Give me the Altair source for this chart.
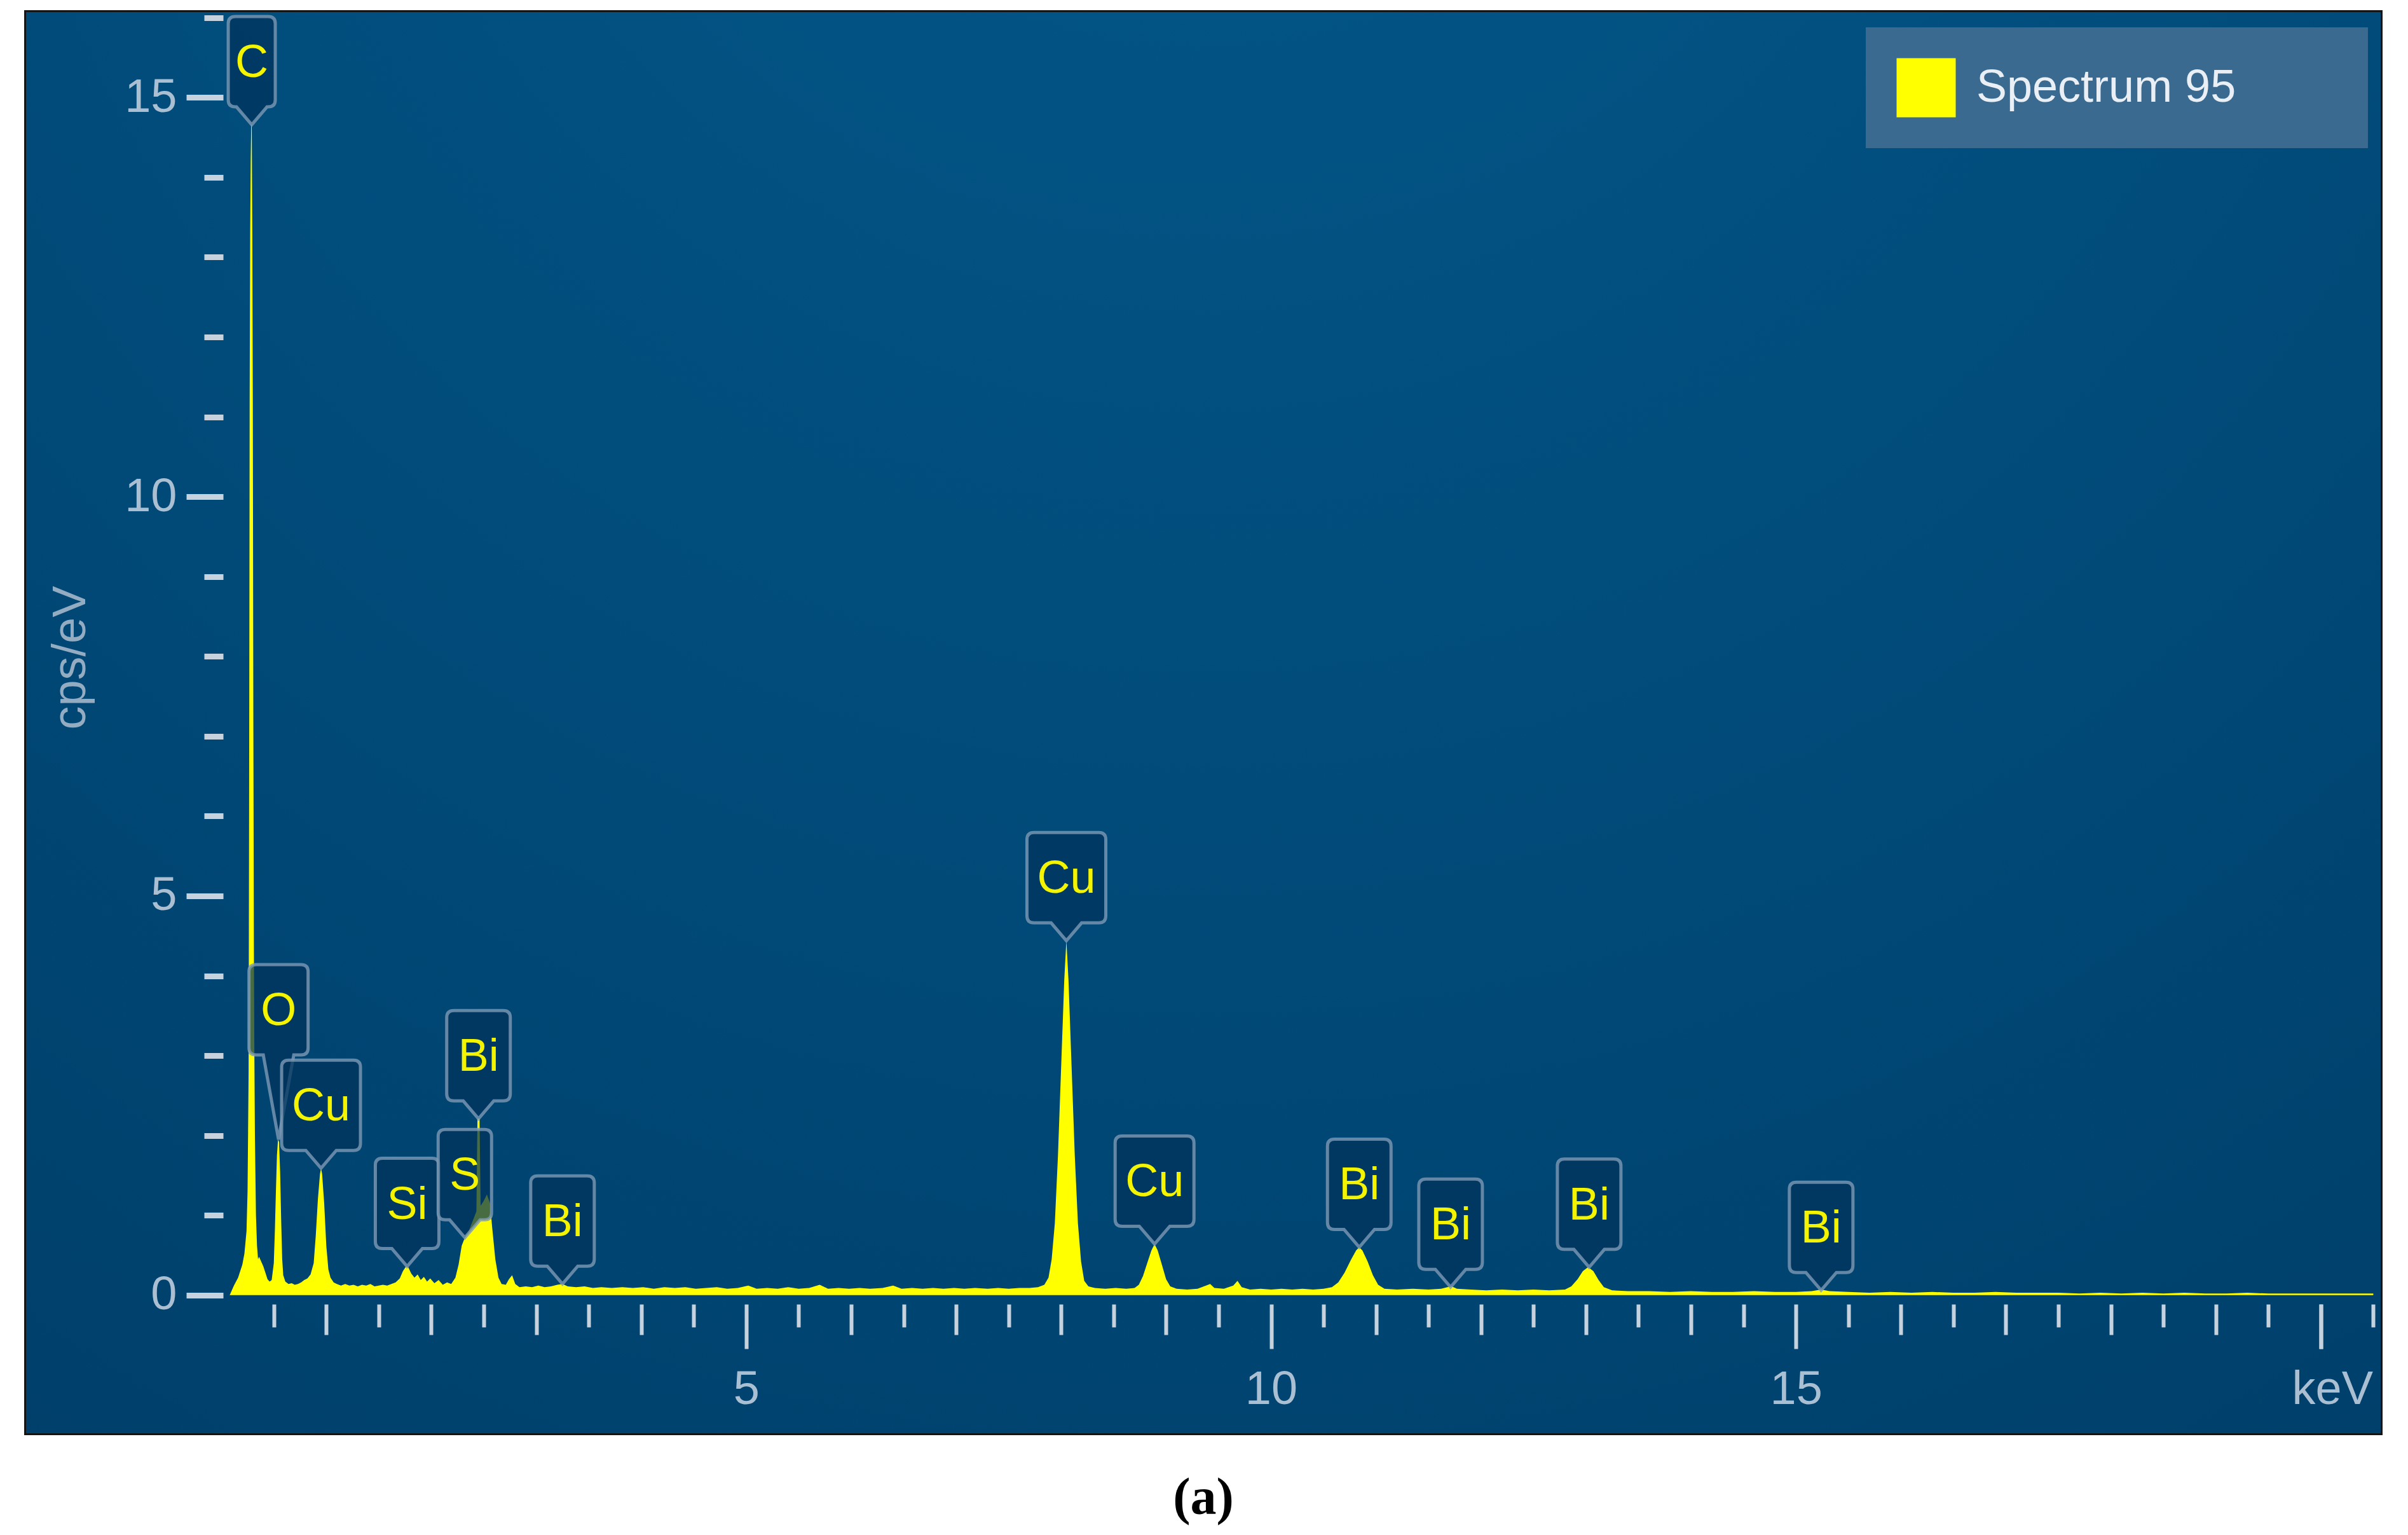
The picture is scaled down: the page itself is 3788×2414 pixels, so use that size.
import altair as alt
import pandas as pd

# ---------------- data ----------------
kev = [0.08, 0.10, 0.12, 0.14, 0.16, 0.18, 0.20, 0.22, 0.24, 0.25, 0.26, 0.265, 0.27, 0.275, 0.28, 0.285,
       0.29, 0.295, 0.30, 0.305, 0.31, 0.315, 0.32, 0.33, 0.34, 0.35, 0.36, 0.38, 0.40, 0.42, 0.44, 0.46,
       0.48, 0.50, 0.51, 0.52, 0.53, 0.54, 0.55, 0.56, 0.57, 0.58, 0.59, 0.61, 0.64, 0.67, 0.70, 0.73,
       0.76, 0.79, 0.82, 0.85, 0.88, 0.90, 0.92, 0.94, 0.95, 0.96, 0.98, 1.00, 1.02, 1.04, 1.07, 1.10,
       1.14, 1.18, 1.22, 1.26, 1.30, 1.34, 1.38, 1.42, 1.46, 1.50, 1.54, 1.58, 1.62, 1.66, 1.70, 1.73,
       1.76, 1.78, 1.81, 1.84, 1.87, 1.90, 1.93, 1.96, 1.99, 2.03, 2.07, 2.11, 2.15, 2.19, 2.23, 2.26,
       2.29, 2.32, 2.35, 2.38, 2.41, 2.43, 2.44, 2.46, 2.47, 2.50, 2.53, 2.56, 2.58, 2.61, 2.64, 2.67,
       2.71, 2.74, 2.77, 2.80, 2.84, 2.90, 2.96, 3.02, 3.08, 3.14, 3.20, 3.25, 3.30, 3.38, 3.46, 3.54,
       3.62, 3.72, 3.82, 3.92, 4.02, 4.12, 4.22, 4.32, 4.42, 4.52, 4.62, 4.72, 4.82, 4.92, 5.02, 5.10,
       5.20, 5.30, 5.40, 5.50, 5.60, 5.70, 5.78, 5.88, 5.98, 6.08, 6.18, 6.30, 6.40, 6.48, 6.58, 6.68,
       6.78, 6.88, 6.98, 7.08, 7.18, 7.30, 7.40, 7.50, 7.60, 7.70, 7.78, 7.84, 7.88, 7.91, 7.94, 7.97,
       8.00, 8.03, 8.05, 8.07, 8.10, 8.13, 8.16, 8.19, 8.22, 8.26, 8.32, 8.42, 8.52, 8.62, 8.70, 8.74,
       8.78, 8.82, 8.86, 8.89, 8.92, 8.96, 9.00, 9.04, 9.10, 9.20, 9.30, 9.38, 9.42, 9.46, 9.55, 9.64,
       9.68, 9.72, 9.80, 9.90, 10.00, 10.10, 10.20, 10.30, 10.40, 10.50, 10.58, 10.64, 10.70, 10.76, 10.81, 10.84,
       10.87, 10.92, 10.97, 11.02, 11.08, 11.20, 11.35, 11.50, 11.62, 11.68, 11.72, 11.77, 11.90, 12.05, 12.20, 12.35,
       12.50, 12.65, 12.80, 12.86, 12.92, 12.97, 13.02, 13.07, 13.12, 13.17, 13.25, 13.40, 13.60, 13.80, 14.00, 14.20,
       14.40, 14.60, 14.80, 15.00, 15.15, 15.24, 15.32, 15.50, 15.70, 15.90, 16.10, 16.30, 16.50, 16.70, 16.90, 17.10,
       17.30, 17.50, 17.70, 17.90, 18.10, 18.30, 18.50, 18.70, 18.90, 19.10, 19.30, 19.50, 19.70, 19.90, 20.10, 20.30,
       20.50]
cps = [0.00, 0.06, 0.12, 0.17, 0.22, 0.30, 0.38, 0.52, 0.80, 1.30, 2.80, 6.30, 11.20, 13.30, 14.20, 14.66,
       14.66, 13.30, 11.20, 7.30, 4.40, 3.00, 2.00, 1.00, 0.62, 0.45, 0.48, 0.42, 0.36, 0.28, 0.20, 0.17,
       0.19, 0.40, 0.80, 1.30, 1.75, 1.95, 1.92, 1.55, 0.95, 0.45, 0.25, 0.17, 0.14, 0.15, 0.13, 0.14,
       0.16, 0.19, 0.21, 0.26, 0.40, 0.75, 1.20, 1.52, 1.59, 1.52, 1.15, 0.62, 0.32, 0.22, 0.16, 0.14,
       0.12, 0.14, 0.12, 0.13, 0.11, 0.13, 0.12, 0.14, 0.11, 0.12, 0.13, 0.12, 0.14, 0.16, 0.21, 0.30,
       0.36, 0.35, 0.27, 0.22, 0.26, 0.19, 0.23, 0.17, 0.21, 0.15, 0.19, 0.13, 0.16, 0.14, 0.22, 0.38,
       0.62, 0.72, 0.78, 0.88, 0.98, 1.05, 2.21, 2.21, 1.12, 1.18, 1.26, 1.15, 0.85, 0.45, 0.22, 0.14,
       0.13, 0.20, 0.25, 0.14, 0.10, 0.11, 0.10, 0.12, 0.10, 0.11, 0.13, 0.14, 0.11, 0.10, 0.11, 0.09,
       0.10, 0.09, 0.10, 0.09, 0.10, 0.08, 0.10, 0.09, 0.10, 0.08, 0.09, 0.10, 0.08, 0.09, 0.12, 0.08,
       0.09, 0.08, 0.10, 0.08, 0.09, 0.13, 0.08, 0.09, 0.08, 0.09, 0.08, 0.09, 0.12, 0.08, 0.09, 0.08,
       0.09, 0.08, 0.09, 0.08, 0.09, 0.08, 0.09, 0.08, 0.09, 0.09, 0.10, 0.13, 0.22, 0.45, 0.90, 1.75,
       2.85, 3.95, 4.44, 3.95, 2.85, 1.75, 0.90, 0.42, 0.18, 0.11, 0.09, 0.08, 0.09, 0.08, 0.09, 0.13,
       0.24, 0.40, 0.56, 0.64, 0.56, 0.38, 0.20, 0.11, 0.08, 0.07, 0.08, 0.12, 0.14, 0.09, 0.08, 0.12,
       0.18, 0.10, 0.07, 0.08, 0.07, 0.08, 0.07, 0.08, 0.07, 0.08, 0.10, 0.16, 0.28, 0.44, 0.56, 0.60,
       0.56, 0.42, 0.25, 0.13, 0.08, 0.07, 0.08, 0.07, 0.08, 0.10, 0.11, 0.08, 0.07, 0.06, 0.07, 0.06,
       0.07, 0.06, 0.07, 0.11, 0.20, 0.30, 0.35, 0.30, 0.19, 0.10, 0.06, 0.05, 0.05, 0.04, 0.05, 0.04,
       0.04, 0.05, 0.04, 0.04, 0.05, 0.07, 0.05, 0.04, 0.03, 0.04, 0.03, 0.04, 0.03, 0.03, 0.04, 0.03,
       0.03, 0.03, 0.02, 0.03, 0.02, 0.03, 0.02, 0.03, 0.02, 0.02, 0.03, 0.02, 0.02, 0.02, 0.02, 0.02,
       0.02]
series_name = "Spectrum 95"

tag_element = ["C", "O", "Cu", "Si", "S", "Bi", "Bi", "Cu", "Cu", "Bi", "Bi", "Bi", "Bi"]
tag_kev = [0.29, 0.545, 0.95, 1.77, 2.32, 2.45, 3.25, 8.05, 8.89, 10.84, 11.71, 13.03, 15.24]
tag_cps = [14.66, 1.95, 1.59, 0.36, 0.72, 2.21, 0.14, 4.44, 0.64, 0.60, 0.10, 0.35, 0.06]

x_label_values = [5, 10, 15, 20]
x_unit_values = [1, 2, 3, 4, 6, 7, 8, 9, 11, 12, 13, 14, 16, 17, 18, 19]
x_half_values = [0.5, 1.5, 2.5, 3.5, 4.5, 5.5, 6.5, 7.5, 8.5, 9.5, 10.5, 11.5, 12.5, 13.5,
                 14.5, 15.5, 16.5, 17.5, 18.5, 19.5, 20.5]
y_label_values = [0, 5, 10, 15]
y_minor_values = [1, 2, 3, 4, 6, 7, 8, 9, 11, 12, 13, 14, 16]
x_unit_label = "keV"
y_title = "cps/eV"
caption = "(a)"

# ---------------- styling ----------------
W, H = 3704, 2235
X_DOMAIN = [-1.86, 20.57]
Y_DOMAIN = [-1.73, 16.07]
FONT = "Liberation Sans"
TICK = "#c6d3df"
LABEL = "#aabfd2"
YELLOW = "#ffff00"
XOFF = -203
YOFF = -310
BLANK = "\u2800"  # blank glyph, only widens the legend frame

xs = alt.Scale(domain=X_DOMAIN, nice=False, zero=False)
ys = alt.Scale(domain=Y_DOMAIN, nice=False, zero=False)


def x_axis(values, size, **kw):
    return alt.Axis(values=values, tickSize=size, tickWidth=6, tickColor=TICK, domain=False,
                    grid=False, title=None, orient="bottom", offset=XOFF, zindex=2, **kw)


def y_axis(values, size, **kw):
    return alt.Axis(values=values, tickSize=size, tickWidth=9, tickColor=TICK, domain=False,
                    grid=False, orient="left", offset=YOFF, zindex=2, **kw)


BOX_W = {"C": 74, "O": 93, "Cu": 124, "Si": 100, "S": 84, "Bi": 100}
BOX_H = 142
stems = [28] * len(tag_element)
stems[1] = 133  # the O label is lifted above the Cu label


def tag_shape(box_w, box_h, stem, half_base=24, radius=11, unit=100.0):
    w2 = box_w / 2.0
    top = stem + box_h
    cmds = [
        ("M", 0, 0), ("L", half_base, -stem), ("L", w2 - radius, -stem),
        ("Q", w2, -stem, w2, -stem - radius), ("L", w2, -top + radius),
        ("Q", w2, -top, w2 - radius, -top), ("L", -w2 + radius, -top),
        ("Q", -w2, -top, -w2, -top + radius), ("L", -w2, -stem - radius),
        ("Q", -w2, -stem, -w2 + radius, -stem), ("L", -half_base, -stem),
    ]
    out = []
    for c in cmds:
        out.append(c[0] + " ".join(f"{v / unit:.3f}" for v in c[1:]))
    return " ".join(out) + " Z"


spec_df = pd.DataFrame({"keV": kev, "cps": cps, "series": series_name})
tag_df = pd.DataFrame({"element": tag_element, "keV": tag_kev, "cps": tag_cps})
tag_df["shape"] = [tag_shape(BOX_W[e], BOX_H, s) for e, s in zip(tag_element, stems)]
tag_df["stem"] = stems

gradient = alt.Gradient(
    gradient="radial", x1=0.5, y1=0.0, x2=0.5, y2=0.0, r1=0, r2=1.0,
    stops=[alt.GradientStop(color="#03598b", offset=0),
           alt.GradientStop(color="#014c7b", offset=0.5),
           alt.GradientStop(color="#003e69", offset=1)],
)

bg = alt.Chart(pd.DataFrame({"k": [0]})).mark_rect(fill=gradient, strokeWidth=0).encode(
    opacity=alt.value(1)
)

area = alt.Chart(spec_df).mark_area(interpolate="linear", opacity=1).encode(
    x=alt.X("keV:Q", scale=xs,
            axis=x_axis(x_label_values, 70, labels=True, labelFont=FONT, labelFontSize=74,
                        labelColor=LABEL, labelPadding=64, labelBaseline="middle",
                        labelFlush=False, labelOverlap=False, labelBound=False,
                        labelExpr="datum.value == 20 ? '' : datum.label")),
    y=alt.Y("cps:Q", scale=ys,
            axis=y_axis(y_label_values, 58, labels=True, labelFont=FONT, labelFontSize=74,
                        labelColor=LABEL, labelPadding=15, labelFlush=False, labelOverlap=False,
                        title=y_title, titleFont=FONT, titleFontSize=74,
                        titleFontWeight="normal", titleColor="#93acc2", titleAngle=270,
                        titleX=-240, titleY=1015, titleAlign="center", titleBaseline="middle")),
    y2=alt.datum(0),
    color=alt.Color("series:N", scale=alt.Scale(domain=[series_name], range=[YELLOW]),
                    legend=alt.Legend(title=None, orient="none", legendX=2894, legendY=24,
                                      fillColor="#3a6a8f", padding=48, symbolType="square",
                                      symbolSize=8650, symbolStrokeWidth=0, symbolOpacity=1,
                                      labelFont=FONT, labelFontSize=72, labelColor="#e9eff5",
                                      labelOffset=32, labelLimit=3000,
                                      labelExpr="datum.label + '" + BLANK * 3 + "'", zindex=3)),
)

unit_label = alt.Chart(tag_df).mark_text(opacity=0).encode(
    x=alt.X("keV:Q", scale=xs,
            axis=x_axis([20], 70, labels=True, labelFont=FONT, labelFontSize=74,
                        labelColor=LABEL, labelPadding=64, labelBaseline="middle",
                        labelFlush=False, labelOverlap=False, labelBound=False,
                        labelOffset=18, labelExpr=f"'{x_unit_label}'")),
    y=alt.Y("cps:Q", scale=ys, axis=None),
    text="element:N",
)

tags = alt.Chart(tag_df).mark_point(
    filled=True, fill="#00335c", fillOpacity=0.72, stroke="#7d9ab5", strokeOpacity=0.8,
    strokeWidth=5, opacity=1, size=40000,
).encode(
    x=alt.X("keV:Q", scale=xs, axis=x_axis(x_unit_values, 48, labels=False)),
    y=alt.Y("cps:Q", scale=ys, axis=y_axis(y_minor_values, 30, labels=False, title=None)),
    shape=alt.Shape("shape:N", scale=None, legend=None),
)

text_layers = []
for i, st in enumerate(sorted(set(stems))):
    xa = x_axis(x_half_values, 36, labels=False) if i == 0 else None
    text_layers.append(
        alt.Chart(tag_df).transform_filter(alt.datum.stem == st).mark_text(
            font=FONT, fontSize=72, color="#f4f400", align="center", baseline="middle",
            dy=-(st + BOX_H / 2.0) + 2,
        ).encode(
            x=alt.X("keV:Q", scale=xs, axis=xa),
            y=alt.Y("cps:Q", scale=ys, axis=None),
            text="element:N",
        )
    )

chart = alt.layer(bg, area, unit_label, tags, *text_layers).resolve_axis(
    x="independent", y="independent"
).properties(
    width=W, height=H,
    autosize=alt.AutoSizeParams(type="none"),
    padding={"left": 33, "top": 11, "right": 30, "bottom": 145},
    background="white",
    title=alt.TitleParams(caption, orient="bottom", font="Liberation Serif", fontSize=82,
                          fontWeight="bold", color="#000000", anchor="middle", offset=62),
).configure_view(stroke="#141414", strokeWidth=6, fill="#00446f")

chart.save("out.html", embed_options={"renderer": "svg", "actions": False})
